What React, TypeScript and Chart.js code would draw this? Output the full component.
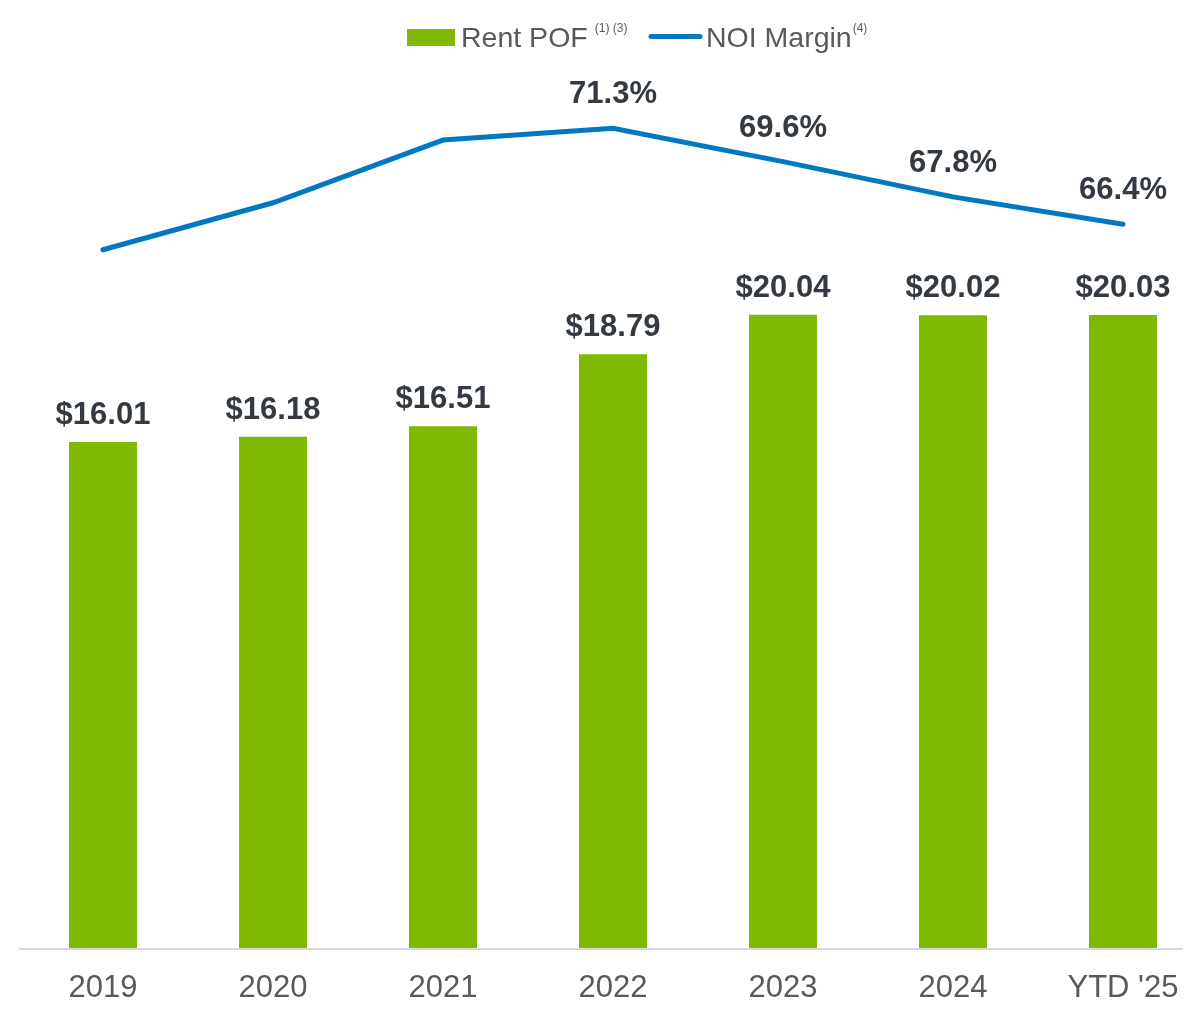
import React, { useEffect, useRef } from "react";
import { Chart, registerables } from "chart.js";

Chart.register(...registerables);

const categories = ["2019", "2020", "2021", "2022", "2023", "2024", "YTD '25"];
const rentPOF = [16.01, 16.18, 16.51, 18.79, 20.04, 20.02, 20.03];
const noiMargin = [65.1, 67.5, 70.7, 71.3, 69.6, 67.8, 66.4];
const noiLabelShown = [false, false, false, true, true, true, true];

const rentLabel = "Rent POF";
const rentNote = "(1) (3)";
const noiLabel = "NOI Margin";
const noiNote = "(4)";

const GREEN = "#7fba00";
const BLUE = "#0079c1";
const LABEL_DARK = "#343a42";
const GREY = "#595959";
const FONT = "'Liberation Sans', Arial, Helvetica, sans-serif";

const dataLabelPlugin = {
  id: "dataLabels",
  afterDatasetsDraw(chart: any) {
    const ctx = chart.ctx;
    ctx.save();
    ctx.fillStyle = LABEL_DARK;
    ctx.textAlign = "center";
    ctx.textBaseline = "alphabetic";
    ctx.font = `bold 31px ${FONT}`;
    const barMeta = chart.getDatasetMeta(1);
    barMeta.data.forEach((el: any, i: number) => {
      ctx.fillText("$" + rentPOF[i].toFixed(2), el.x, el.y - 18);
    });
    const lineMeta = chart.getDatasetMeta(0);
    lineMeta.data.forEach((el: any, i: number) => {
      if (!noiLabelShown[i]) return;
      ctx.fillText(noiMargin[i].toFixed(1) + "%", el.x, el.y - 25);
    });
    ctx.restore();
  },
};

const axisLinePlugin = {
  id: "axisLine",
  beforeDatasetsDraw(chart: any) {
    const { ctx, chartArea } = chart;
    ctx.save();
    ctx.strokeStyle = "#d9d9d9";
    ctx.lineWidth = 2;
    ctx.beginPath();
    ctx.moveTo(chartArea.left + 1, chartArea.bottom + 1);
    ctx.lineTo(chartArea.right - 25, chartArea.bottom + 1);
    ctx.stroke();
    ctx.restore();
  },
};

const legendPlugin = {
  id: "customLegend",
  afterDraw(chart: any) {
    const ctx = chart.ctx;
    ctx.save();
    const baseline = 46.5;
    ctx.fillStyle = GREEN;
    ctx.fillRect(407, 29, 48, 17);
    ctx.fillStyle = GREY;
    ctx.textAlign = "left";
    ctx.textBaseline = "alphabetic";
    ctx.font = `28.5px ${FONT}`;
    ctx.fillText(rentLabel, 461, baseline);
    const w1 = ctx.measureText(rentLabel).width;
    ctx.font = `12px ${FONT}`;
    ctx.fillText(rentNote, 461 + w1 + 7, 32);
    ctx.strokeStyle = BLUE;
    ctx.lineWidth = 5;
    ctx.lineCap = "round";
    ctx.beginPath();
    ctx.moveTo(651, 36.5);
    ctx.lineTo(700, 36.5);
    ctx.stroke();
    ctx.font = `28.5px ${FONT}`;
    ctx.fillText(noiLabel, 706, baseline);
    const w2 = ctx.measureText(noiLabel).width;
    ctx.font = `12px ${FONT}`;
    ctx.fillText(noiNote, 706 + w2 + 1, 32);
    ctx.restore();
  },
};

export default function App() {
  const canvasRef = useRef<HTMLCanvasElement | null>(null);

  useEffect(() => {
    if (!canvasRef.current) return;
    const chart = new Chart(canvasRef.current, {
      type: "bar",
      data: {
        labels: categories,
        datasets: [
          {
            type: "line",
            label: noiLabel,
            data: noiMargin,
            yAxisID: "y1",
            borderColor: BLUE,
            backgroundColor: BLUE,
            borderWidth: 5,
            borderCapStyle: "round",
            pointRadius: 0,
            pointHoverRadius: 0,
            tension: 0,
            fill: false,
          } as any,
          {
            type: "bar",
            label: rentLabel,
            data: rentPOF,
            yAxisID: "y",
            backgroundColor: GREEN,
            borderWidth: 0,
            barPercentage: 0.4,
            categoryPercentage: 1,
          } as any,
        ],
      },
      options: {
        responsive: false,
        animation: false,
        layout: { padding: { left: 18, right: 2, top: 0, bottom: 4.8 } },
        plugins: {
          legend: { display: false },
          tooltip: { enabled: false },
          title: { display: false },
        },
        scales: {
          x: {
            offset: true,
            grid: { display: false, drawTicks: false },
            border: { display: false },
            ticks: {
              color: GREY,
              padding: 22,
              font: { family: FONT, size: 31 },
              maxRotation: 0,
              autoSkip: false,
            },
          },
          y: {
            display: false,
            min: 0,
            max: 30,
          },
          y1: {
            display: false,
            position: "right",
            min: 29.46,
            max: 77.85,
          },
        },
      },
      plugins: [axisLinePlugin, dataLabelPlugin, legendPlugin],
    });
    return () => chart.destroy();
  }, []);

  return (
    <div
      style={{
        position: "fixed",
        left: 0,
        top: 0,
        width: 1199,
        height: 1012,
        overflow: "hidden",
        background: "#fff",
      }}
    >
      <canvas ref={canvasRef} width={1210} height={1034} style={{ display: "block" }} />
    </div>
  );
}
